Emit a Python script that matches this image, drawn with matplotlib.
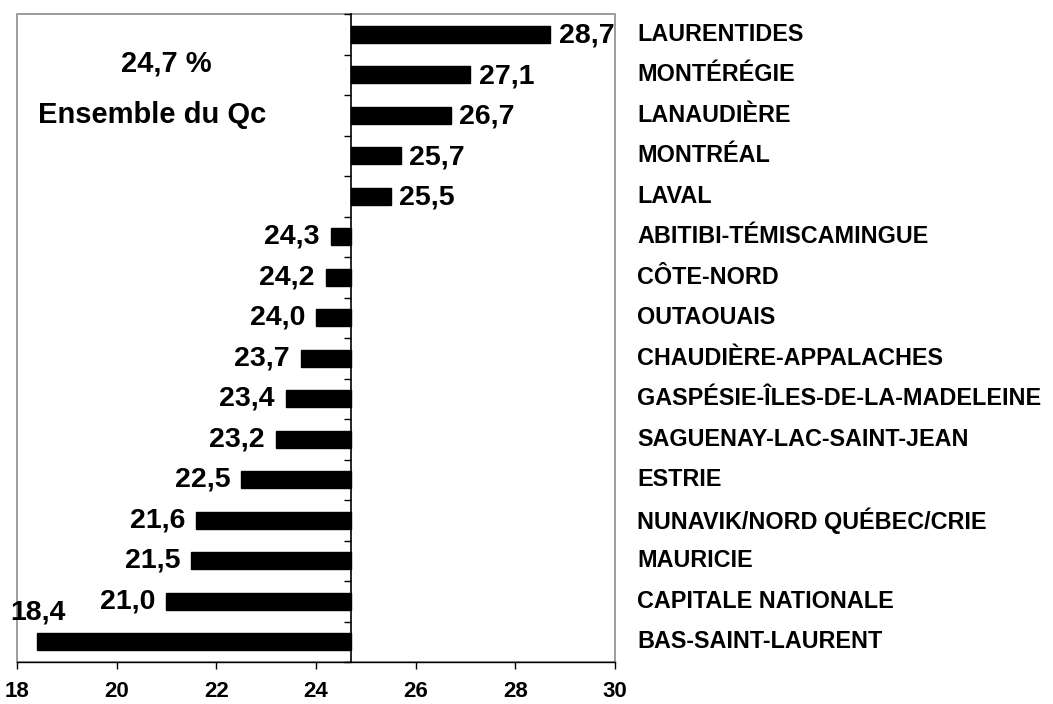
import matplotlib
matplotlib.use("Agg")
import matplotlib.pyplot as plt
from matplotlib.patches import Rectangle
import matplotlib.transforms as mtransforms

regions = ["LAURENTIDES", "MONTÉRÉGIE", "LANAUDIÈRE", "MONTRÉAL", "LAVAL",
           "ABITIBI-TÉMISCAMINGUE", "CÔTE-NORD", "OUTAOUAIS",
           "CHAUDIÈRE-APPALACHES", "GASPÉSIE-ÎLES-DE-LA-MADELEINE",
           "SAGUENAY-LAC-SAINT-JEAN", "ESTRIE", "NUNAVIK/NORD QUÉBEC/CRIE",
           "MAURICIE", "CAPITALE NATIONALE", "BAS-SAINT-LAURENT"]
values = [28.7, 27.1, 26.7, 25.7, 25.5, 24.3, 24.2, 24.0, 23.7, 23.4,
          23.2, 22.5, 21.6, 21.5, 21.0, 18.4]
quebec = 24.7
xticks = [18, 20, 22, 24, 26, 28, 30]

plt.rcParams['font.family'] = ['Liberation Sans', 'DejaVu Sans']

fig = plt.figure(figsize=(10.53, 7.04), dpi=100)
ax = fig.add_axes([17/1053, 1-662/704, (615-17)/1053, (662-14)/704])

n = len(values)
ypos = list(range(n))
ax.barh(ypos, [v - quebec for v in values], left=quebec, height=0.43,
        color='black', edgecolor='black')

ax.set_xlim(18, 30)
ax.set_ylim(n - 0.5, -0.5)

# y axis at the Quebec average
ax.spines['left'].set_position(('data', quebec))
ax.spines['left'].set_color('black')
ax.spines['left'].set_linewidth(1.2)
for s in ['top', 'right']:
    ax.spines[s].set_visible(False)
ax.spines['bottom'].set_color('black')
ax.spines['bottom'].set_linewidth(1.0)
ax.add_patch(Rectangle((0, 0), 1, 1, transform=ax.transAxes, fill=False,
                       edgecolor='#8c8c8c', linewidth=1.2, clip_on=False, zorder=0))

ax.set_yticks([i - 0.5 for i in range(n + 1)])
ax.set_yticklabels([])
ax.tick_params(axis='y', direction='out', length=5, width=1, color='black')

ax.set_xticks(xticks)
ax.set_xticklabels([str(t) for t in xticks], fontsize=16, fontweight='bold')
ax.tick_params(axis='x', direction='out', length=5, width=1, pad=9, color='black')

# value labels
for i, v in enumerate(values):
    lab = f"{v:.1f}".replace('.', ',')
    if v >= quebec:
        ax.annotate(lab, (v, i), xytext=(6, -1), textcoords='offset points',
                    ha='left', va='center', fontsize=20.5, fontweight='bold')
    elif v - 18 < 1.0:
        ax.annotate(lab, (v, i), xytext=(1, 21), textcoords='offset points',
                    ha='center', va='center', fontsize=20.5, fontweight='bold')
    else:
        ax.annotate(lab, (v, i), xytext=(-8, 0), textcoords='offset points',
                    ha='right', va='center', fontsize=20.5, fontweight='bold')

# region labels at right
trans = mtransforms.blended_transform_factory(ax.transAxes, ax.transData)
for i, r in enumerate(regions):
    ax.text(1 + 22/598, i, r, transform=trans, ha='left', va='center',
            fontsize=16.8, fontweight='bold', clip_on=False)

ax.text(166/1053, 1-64/704, "24,7 %", transform=fig.transFigure, ha='center',
        va='center', fontsize=21, fontweight='bold')
ax.text(152/1053, 1-115/704, "Ensemble du Qc", transform=fig.transFigure,
        ha='center', va='center', fontsize=21, fontweight='bold')

fig.savefig("out.png", dpi=100)
